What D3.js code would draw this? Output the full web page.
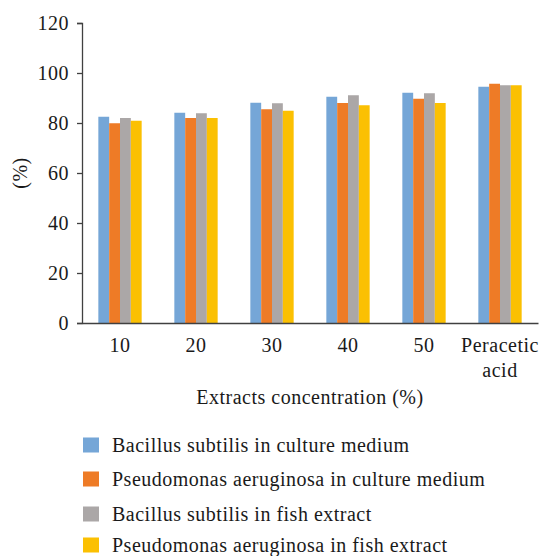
<!DOCTYPE html>
<html>
<head>
<meta charset="utf-8">
<script src="https://cdn.jsdelivr.net/npm/d3@7"></script>
<style>
  html, body { margin: 0; padding: 0; background: #fff; }
  svg { display: block; }
  text { font-family: "Liberation Serif", "DejaVu Serif", serif; fill: #1a1a1a; letter-spacing: 0.5px; }
</style>
</head>
<body>
<svg id="chart" width="540" height="556"></svg>
<script>
const categories = ["10", "20", "30", "40", "50", "Peracetic acid"];
const seriesNames = [
  "Bacillus subtilis in culture medium",
  "Pseudomonas aeruginosa in culture medium",
  "Bacillus subtilis in fish extract",
  "Pseudomonas aeruginosa in fish extract"
];
const bacillusCulture = [82.5, 84.1, 88.1, 90.5, 92.1, 94.5];
const pseudomonasCulture = [79.9, 82.0, 85.5, 88.0, 89.7, 95.7];
const bacillusFish = [82.0, 83.9, 87.9, 91.1, 91.9, 95.1];
const pseudomonasFish = [80.9, 82.0, 84.9, 87.1, 88.0, 95.1];
const yTicks = [0, 20, 40, 60, 80, 100, 120];
const colors = ["#75a6d7", "#ee7b26", "#aba7a7", "#fbc002"];

const series = [bacillusCulture, pseudomonasCulture, bacillusFish, pseudomonasFish];

const svg = d3.select("#chart");
const margin = { left: 82, right: 2, top: 23 };
const W = 540, H = 556;
const plotBottom = 323;
const FS = 20;

const x = d3.scaleBand().domain(categories).range([margin.left, W - margin.right])
  .paddingInner(0.43).paddingOuter(0.215);
const y = d3.scaleLinear().domain([0, 120]).range([plotBottom, margin.top]);
const xs = d3.scaleBand().domain(d3.range(series.length)).range([0, x.bandwidth()]);

// bars
series.forEach((vals, si) => {
  svg.append("g").selectAll("rect").data(vals).join("rect")
    .attr("x", (d, i) => x(categories[i]) + xs(si))
    .attr("y", d => y(d))
    .attr("width", xs.bandwidth())
    .attr("height", d => y(0) - y(d))
    .attr("fill", colors[si]);
});

// y axis
const yAxis = svg.append("g").attr("transform", `translate(${margin.left},0)`)
  .call(d3.axisLeft(y).tickValues(yTicks).tickSize(5).tickPadding(8));
yAxis.select(".domain").attr("stroke", "#404040").attr("stroke-width", 1.3);
yAxis.selectAll(".tick line").attr("stroke", "#404040").attr("stroke-width", 1.3);
yAxis.selectAll(".tick text").attr("font-size", FS).attr("font-family", "Liberation Serif")
  .attr("fill", "#1a1a1a").attr("dy", "0.34em");

// x axis line
const xAxis = svg.append("g").attr("transform", `translate(0,${plotBottom})`)
  .call(d3.axisBottom(x).tickSize(0).tickPadding(10));
xAxis.select(".domain").attr("stroke", "#404040").attr("stroke-width", 1.5);
xAxis.selectAll(".tick text").remove();
xAxis.selectAll(".tick").each(function(d) {
  const words = d.split(" ");
  const t = d3.select(this).append("text")
    .attr("font-size", FS).attr("text-anchor", "middle").attr("fill", "#1a1a1a");
  words.forEach((w, i) => {
    t.append("tspan").attr("x", 0).attr("y", 29 + i * 25).text(w);
  });
});

// axis titles
svg.append("text").attr("x", (margin.left + W - margin.right) / 2).attr("y", 404)
  .attr("text-anchor", "middle").attr("font-size", FS).text("Extracts concentration (%)");
svg.append("text").attr("transform", `translate(27,${(plotBottom + margin.top) / 2}) rotate(-90)`)
  .attr("text-anchor", "middle").attr("font-size", FS).text("(%)");

// legend
const legendY = [445, 479, 514, 545];
const legend = svg.append("g");
seriesNames.forEach((name, i) => {
  legend.append("rect").attr("x", 83).attr("y", legendY[i] - 7.5).attr("width", 16).attr("height", 15)
    .attr("fill", colors[i]);
  legend.append("text").attr("x", 112).attr("y", legendY[i] + 7).attr("font-size", FS).text(name);
});
</script>
</body>
</html>
